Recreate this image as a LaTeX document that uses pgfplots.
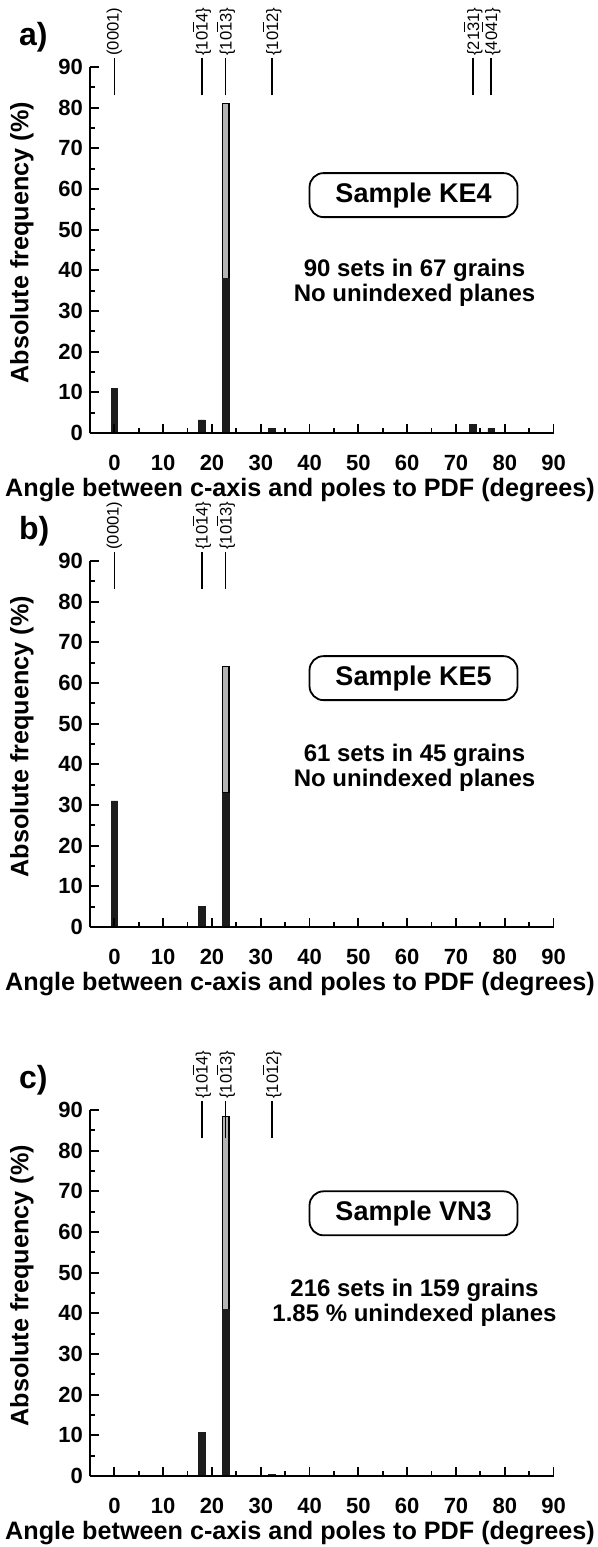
\documentclass[border=0pt]{standalone}
\usepackage{fontspec}
\setmainfont{Liberation Sans}
\usepackage{pgfplots}
\pgfplotsset{compat=1.18}
\definecolor{barblk}{HTML}{1C1C1C}
\definecolor{bargray}{HTML}{B4B4B4}
\newcommand\ob[1]{$\overline{\mbox{#1}}$}
% plane marker: vertical line with rotated Miller index above it
\newcommand\plane[2]{\draw[line width=0.8pt, black] (axis cs:#1,83) -- (axis cs:#1,92.3)
  node[anchor=west, rotate=90, inner sep=0.6pt, font=\fontsize{8.3}{8.3}\selectfont] {#2};}

\pgfplotsset{
  kepanel/.style={
    scale only axis, width=231.8pt, height=183pt,
    xmin=-5, xmax=90, ymin=0, ymax=90,
    axis x line*=bottom, axis y line*=left,
    axis line style={line width=1pt, -},
    xtick={0,10,...,90}, ytick={0,10,...,90},
    minor x tick num=1, minor y tick num=1,
    tick align=inside, major tick length=4.5pt, minor tick length=2.3pt,
    every tick/.append style={line width=0.9pt, black},
    every minor tick/.append style={line width=0.9pt, black},
    tick label style={font=\fontsize{11}{13}\selectfont\bfseries},
    /pgf/number format/assume math mode=true,
    xticklabel style={yshift=-7.5pt},
    xlabel={Angle between c-axis and poles to PDF (degrees)},
    ylabel={Absolute frequency (\%)},
    label style={font=\fontsize{12.6}{14}\selectfont\bfseries},
    xlabel style={at={(axis description cs:0.453,-0.156)}, anchor=center},
    ylabel style={at={(axis description cs:-0.147,0.52)}, anchor=center},
    ybar stacked, bar width=1.35,
    clip=false, axis on top,
  },
  blk/.style={fill=barblk, draw=barblk, line width=0.3pt},
  gry/.style={fill=bargray, draw=black, line width=0.6pt},
}
\tikzset{
  mytag/.style={anchor=west, xshift=-39pt, yshift=15pt, font=\fontsize{16}{16}\selectfont\bfseries},
  mypill/.style={draw, line width=0.9pt, rounded corners=7pt, minimum width=104pt, minimum height=22pt,
    inner sep=0pt, font=\fontsize{13.5}{13.5}\selectfont\bfseries},
  mynote/.style={align=center, font=\fontsize{12}{12.5}\selectfont\bfseries},
}

\begin{document}
\begin{tikzpicture}
\path[use as bounding box] (-45pt,-557pt) rectangle (254pt,216.5pt);

% a) KE4
\begin{axis}[kepanel, at={(0pt,0pt)}, anchor=south west]
\plane{0}{(0001)}
\plane{17.9}{\{10\ob{1}4\}}
\plane{22.8}{\{10\ob{1}3\}}
\plane{32.3}{\{10\ob{1}2\}}
\plane{73.5}{\{21\ob{3}1\}}
\plane{77.2}{\{40\ob{4}1\}}
\addplot[blk] coordinates {(0,11) (17.9,3.2) (22.8,38) (32.3,1.1) (73.5,2.2) (77.2,1.1)};
\addplot[gry] coordinates {(0,0) (17.9,0) (22.8,43) (32.3,0) (73.5,0) (77.2,0)};
\node[mytag] at (axis description cs:0,1) {a)};
\node[mypill] at (axis cs:61.3,58.5) {Sample KE4};
\node[mynote] at (axis cs:61.5,37) {90 sets in 67 grains\\No unindexed planes};
\end{axis}

% b) KE5
\begin{axis}[kepanel, at={(0pt,-247pt)}, anchor=south west]
\plane{0}{(0001)}
\plane{17.9}{\{10\ob{1}4\}}
\plane{22.8}{\{10\ob{1}3\}}
\addplot[blk] coordinates {(0,31) (17.9,5) (22.8,33)};
\addplot[gry] coordinates {(0,0) (17.9,0) (22.8,31)};
\node[mytag] at (axis description cs:0,1) {b)};
\node[mypill] at (axis cs:61.3,61.2) {Sample KE5};
\node[mynote] at (axis cs:61.5,39.1) {61 sets in 45 grains\\No unindexed planes};
\end{axis}

% c) VN3
\begin{axis}[kepanel, at={(0pt,-521.5pt)}, anchor=south west]
\plane{17.9}{\{10\ob{1}4\}}
\plane{22.8}{\{10\ob{1}3\}}
\plane{32.3}{\{10\ob{1}2\}}
\addplot[blk] coordinates {(17.9,10.7) (22.8,41) (32.3,0.4)};
\addplot[gry] coordinates {(17.9,0) (22.8,47.5) (32.3,0)};
\node[mytag] at (axis description cs:0,1) {c)};
\node[mypill] at (axis cs:61.3,64.6) {Sample VN3};
\node[mynote] at (axis cs:61.5,42.5) {216 sets in 159 grains\\1.85 \% unindexed planes};
\end{axis}
\end{tikzpicture}
\end{document}
